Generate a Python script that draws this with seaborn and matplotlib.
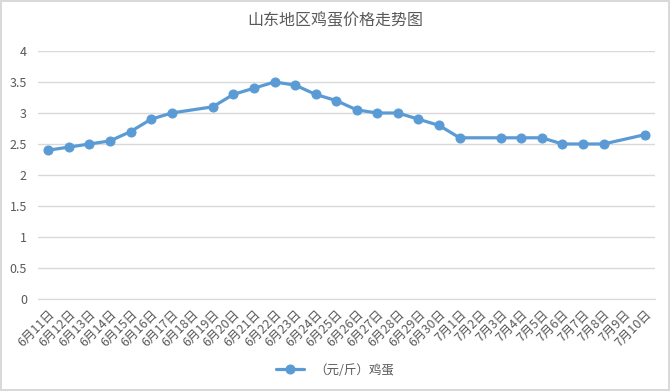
import numpy as np
import pandas as pd
import matplotlib
matplotlib.use("Agg")
import matplotlib.pyplot as plt
import seaborn as sns

sns.set_style("white")
plt.rcParams['font.family'] = ['Noto Sans CJK SC', 'DejaVu Sans']
plt.rcParams['axes.unicode_minus'] = False

# 日期（6月11日 ~ 7月10日）
dates = [f"6月{d}日" for d in range(11, 31)] + [f"7月{d}日" for d in range(1, 11)]
# 鸡蛋价格（元/斤），None 为当天无数据
prices = [2.4, 2.45, 2.5, 2.55, 2.7, 2.9, 3.0, None, 3.1, 3.3,
          3.4, 3.5, 3.45, 3.3, 3.2, 3.05, 3.0, 3.0, 2.9, 2.8,
          2.6, None, 2.6, 2.6, 2.6, 2.5, 2.5, 2.5, None, 2.65]
series_name = "（元/斤）鸡蛋"
title = "山东地区鸡蛋价格走势图"

df = pd.DataFrame({"date": dates, "price": prices})
df["pos"] = np.arange(len(df))
df = df.dropna()

fig = plt.figure(figsize=(6.7, 3.91), dpi=100, edgecolor="#d9d9d9", linewidth=1.5)
ax = fig.add_axes([38 / 670, 1 - 299 / 391, 617 / 670, 248 / 391])

sns.lineplot(data=df, x="pos", y="price", ax=ax, color="#5B9BD5", linewidth=2.3,
             marker="o", markersize=6.5, markeredgecolor="#5B9BD5", label=series_name)

ax.set_xlim(-0.5, len(dates) - 0.5)
ax.set_ylim(0, 4)
ax.set_yticks(np.arange(0, 4.01, 0.5))
ax.set_yticklabels(["0", "0.5", "1", "1.5", "2", "2.5", "3", "3.5", "4"])
ax.set_xticks(np.arange(len(dates)))
ax.set_xticklabels(dates, rotation=45, ha="right", rotation_mode="anchor")
ax.set_xticks(np.arange(-0.5, len(dates), 1), minor=True)
ax.tick_params(axis="x", which="major", length=0, pad=6, labelsize=9, colors="#595959")
ax.tick_params(axis="x", which="minor", length=5, color="#d9d9d9", width=1)
ax.tick_params(axis="y", length=0, labelsize=9, colors="#595959", pad=8)
ax.grid(axis="y", color="#d9d9d9", linewidth=1)
ax.set_axisbelow(True)
for s in ["top", "right", "left"]:
    ax.spines[s].set_visible(False)
ax.spines["bottom"].set_color("#d9d9d9")
ax.spines["bottom"].set_zorder(1)
ax.set_xlabel("")
ax.set_ylabel("")

fig.suptitle(title, y=1 - 21 / 391, fontsize=11.5, color="#595959", va="center")

ax.get_legend().remove()
leg = fig.legend(*ax.get_legend_handles_labels(), loc="center", bbox_to_anchor=(0.5, 1 - 370 / 391),
                 frameon=False, fontsize=9, handlelength=2.2)
for t in leg.get_texts():
    t.set_color("#595959")

fig.savefig("out.png", dpi=100)
